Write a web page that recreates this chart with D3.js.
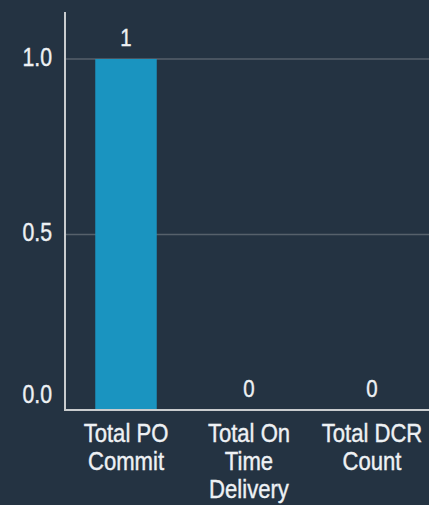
<!DOCTYPE html>
<html><head><meta charset="utf-8">
<script src="https://cdn.jsdelivr.net/npm/d3@7"></script>
<style>
html,body{margin:0;padding:0;background:#243342;}
svg{display:block;}
text{font-family:"Liberation Sans",Arial,sans-serif;fill:#eef1f4;stroke:#eef1f4;stroke-width:0.4px;}
</style></head><body>
<svg id="c" width="429" height="505"></svg>
<script>
const categories = ["Total PO Commit", "Total On Time Delivery", "Total DCR Count"];
const categoryLines = [["Total PO","Commit"],["Total On","Time","Delivery"],["Total DCR","Count"]];
const values = [1, 0, 0];
const yTicks = [0, 0.5, 1.0];

const svg = d3.select("#c");
const W = 429, H = 505;
const SX = 0.85; // narrow font emulation
const x = d3.scaleBand().domain(categories).range([64.5, 433.5]).paddingInner(0.5).paddingOuter(0.25);
const y = d3.scaleLinear().domain([0, 1]).range([410, 59]);

// gridlines
svg.append("g").selectAll("line").data(yTicks.filter(d => d > 0)).join("line")
  .attr("x1", 66).attr("x2", W).attr("y1", d => y(d)).attr("y2", d => y(d))
  .attr("stroke", "#56616b").attr("stroke-width", 1.5);

// bars
svg.append("g").selectAll("rect").data(values).join("rect")
  .attr("x", (d, i) => x(categories[i]))
  .attr("width", x.bandwidth())
  .attr("y", d => y(d))
  .attr("height", d => y(0) - y(d))
  .attr("fill", "#1a94c0");

// value labels
svg.append("g").selectAll("text").data(values).join("text")
  .attr("transform", (d, i) => `translate(${x(categories[i]) + x.bandwidth() / 2},${y(d) - 13.5}) scale(${SX},1)`)
  .attr("text-anchor", "middle")
  .attr("font-size", 24)
  .text(d => d);

// axes
svg.append("line").attr("x1", 65).attr("x2", 65).attr("y1", 12).attr("y2", 410)
  .attr("stroke", "#c9ccce").attr("stroke-width", 2);
svg.append("line").attr("x1", 64).attr("x2", W).attr("y1", 410).attr("y2", 410)
  .attr("stroke", "#c9ccce").attr("stroke-width", 2);

svg.append("g").selectAll("text").data(yTicks).join("text")
  .attr("transform", d => `translate(52,${d === 0 ? y(d) - 7.5 : y(d) + 6.5}) scale(${SX},1)`)
  .attr("text-anchor", "end")
  .attr("font-size", 25)
  .text(d => d3.format(".1f")(d));

// x labels
const xl = svg.append("g").selectAll("text").data(categories).join("text")
  .attr("transform", d => `translate(${x(d) + x.bandwidth() / 2},441.5) scale(${SX},1)`)
  .attr("text-anchor", "middle")
  .attr("font-size", 26);
xl.selectAll("tspan").data((d, i) => categoryLines[i]).join("tspan")
  .attr("x", 0)
  .attr("dy", (d, j) => j === 0 ? 0 : 28.5)
  .text(d => d);
</script>
</body></html>
